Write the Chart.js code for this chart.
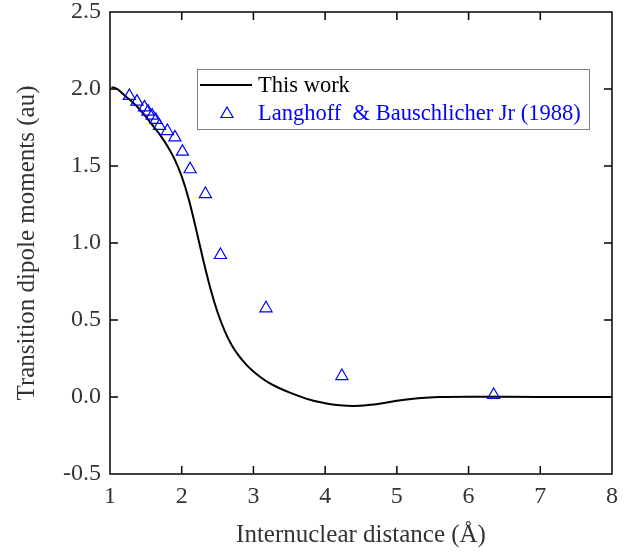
<!DOCTYPE html>
<html lang="en">
<head>
  <meta charset="UTF-8">
  <title>Transition dipole moments</title>
  <script src="https://cdn.jsdelivr.net/npm/chart.js"></script>
  <style>
    html, body { margin: 0; padding: 0; background: #fff; }
    .wrap { width: 632px; height: 552px; }
  </style>
</head>
<body>
  <div class="wrap"><canvas id="tdmChart"></canvas></div>

  <script>
    // curve: this work
    const curveX = [1.02, 1.05, 1.10, 1.20, 1.30, 1.40, 1.50, 1.60, 1.70, 1.80, 1.90, 2.00, 2.10, 2.20, 2.30, 2.40, 2.50, 2.60, 2.70, 2.80, 2.90, 3.00, 3.10, 3.20, 3.35, 3.50, 3.80, 4.00, 4.20, 4.40, 4.60, 4.80, 5.00, 5.20, 5.40, 5.60, 6.00, 7.00, 8.00];
    const curveY = [2.01, 2.01, 2.00, 1.96, 1.92, 1.875, 1.82, 1.76, 1.70, 1.63, 1.545, 1.433, 1.281, 1.09, 0.89, 0.705, 0.55, 0.428, 0.335, 0.265, 0.21, 0.165, 0.128, 0.097, 0.06, 0.03, -0.02, -0.04, -0.053, -0.058, -0.052, -0.04, -0.025, -0.013, -0.005, 0.0, 0.002, 0.0, 0.0];
    // Langhoff & Bauschlicher Jr (1988)
    const refX = [1.27, 1.376, 1.48, 1.53, 1.587, 1.64, 1.69, 1.80, 1.905, 2.01, 2.117, 2.33, 2.54, 3.175, 4.233, 6.35];
    const refY = [1.955, 1.918, 1.881, 1.853, 1.827, 1.799, 1.760, 1.727, 1.686, 1.593, 1.479, 1.318, 0.922, 0.576, 0.136, 0.013];

    const xTicks = [1, 2, 3, 4, 5, 6, 7, 8];
    const yTicks = [-0.5, 0.0, 0.5, 1.0, 1.5, 2.0, 2.5];

    const serif = "'Liberation Serif', 'Times New Roman', serif";
    const blue = '#0000ff';

    // frame + inward ticks on all four sides
    const framePlugin = {
      id: 'frame',
      afterDatasetsDraw(chart) {
        const { ctx, chartArea: a, scales } = chart;
        ctx.save();
        ctx.strokeStyle = '#000';
        ctx.lineWidth = 1.5;
        ctx.strokeRect(a.left, a.top, a.right - a.left, a.bottom - a.top);
        const len = 8;
        ctx.beginPath();
        scales.x.ticks.forEach(t => {
          const px = scales.x.getPixelForValue(t.value);
          if (px <= a.left + 1 || px >= a.right - 1) return;
          ctx.moveTo(px, a.bottom); ctx.lineTo(px, a.bottom - len);
          ctx.moveTo(px, a.top); ctx.lineTo(px, a.top + len);
        });
        scales.y.ticks.forEach(t => {
          const py = scales.y.getPixelForValue(t.value);
          if (py <= a.top + 1 || py >= a.bottom - 1) return;
          ctx.moveTo(a.left, py); ctx.lineTo(a.left + len, py);
          ctx.moveTo(a.right, py); ctx.lineTo(a.right - len, py);
        });
        ctx.stroke();
        ctx.restore();
      }
    };

    // boxed legend inside the plot
    const legendPlugin = {
      id: 'boxLegend',
      afterDraw(chart) {
        const { ctx } = chart;
        const ds = chart.data.datasets;
        const box = { x: 197, y: 69, w: 392, h: 60 };
        ctx.save();
        ctx.fillStyle = '#fff';
        ctx.fillRect(box.x, box.y, box.w, box.h);
        ctx.strokeStyle = '#808080';
        ctx.lineWidth = 1;
        ctx.strokeRect(box.x + 0.5, box.y + 0.5, box.w, box.h);

        ctx.font = "22.5px " + serif;
        ctx.textBaseline = 'middle';
        // row 1: line
        ctx.strokeStyle = '#000';
        ctx.lineWidth = 2;
        ctx.beginPath();
        ctx.moveTo(200, 85); ctx.lineTo(252, 85);
        ctx.stroke();
        ctx.fillStyle = '#000';
        ctx.fillText(ds[0].label, 258, 86);
        // row 2: open triangle
        ctx.strokeStyle = blue;
        ctx.fillStyle = 'rgba(0,0,0,0)';
        ctx.lineWidth = 1.2;
        Chart.helpers.drawPoint(ctx, { pointStyle: 'triangle', radius: 7, rotation: 0, borderWidth: 1.2 }, 227, 114);
        ctx.fillStyle = blue;
        ctx.fillText(ds[1].label, 258, 114);
        ctx.restore();
      }
    };

    new Chart(document.getElementById('tdmChart'), {
      type: 'scatter',
      data: {
        datasets: [
          {
            label: 'This work',
            data: curveX.map((x, i) => ({ x: x, y: curveY[i] })),
            showLine: true,
            borderColor: '#000',
            borderWidth: 2,
            pointRadius: 0,
            cubicInterpolationMode: 'monotone',
            order: 2
          },
          {
            label: 'Langhoff  & Bauschlicher Jr (1988)',
            data: refX.map((x, i) => ({ x: x, y: refY[i] })),
            pointStyle: 'triangle',
            pointRadius: 7,
            borderColor: blue,
            backgroundColor: 'rgba(0,0,0,0)',
            borderWidth: 1.2,
            order: 1
          }
        ]
      },
      options: {
        responsive: true,
        maintainAspectRatio: false,
        animation: false,
        layout: { padding: { top: 12, right: 20, left: 0, bottom: 0 } },
        plugins: { legend: { display: false }, tooltip: { enabled: false } },
        scales: {
          x: {
            type: 'linear',
            min: 1, max: 8,
            afterBuildTicks: s => { s.ticks = xTicks.map(v => ({ value: v })); },
            afterFit: s => { s.height = 78; s.paddingLeft = 0; s.paddingRight = 0; },
            grid: { display: false, drawTicks: false },
            border: { display: false },
            ticks: {
              autoSkip: false,
              maxRotation: 0,
              padding: 8,
              color: '#333',
              font: { family: serif, size: 24 },
              callback: v => String(v)
            },
            title: {
              display: true,
              text: 'Internuclear distance (Å)',
              color: '#333',
              font: { family: serif, size: 25 },
              padding: { top: 0, bottom: 2 }
            }
          },
          y: {
            type: 'linear',
            min: -0.5, max: 2.5,
            afterBuildTicks: s => { s.ticks = yTicks.map(v => ({ value: v })); },
            afterFit: s => { s.width = 110; s.paddingTop = 0; s.paddingBottom = 0; },
            grid: { display: false, drawTicks: false },
            border: { display: false },
            ticks: {
              autoSkip: false,
              padding: 9,
              color: '#333',
              font: { family: serif, size: 24 },
              callback: v => v.toFixed(1)
            },
            title: {
              display: true,
              text: 'Transition dipole moments (au)',
              color: '#333',
              font: { family: serif, size: 25 },
              padding: { top: 12, bottom: 0 }
            }
          }
        }
      },
      plugins: [framePlugin, legendPlugin]
    });
  </script>
</body>
</html>
